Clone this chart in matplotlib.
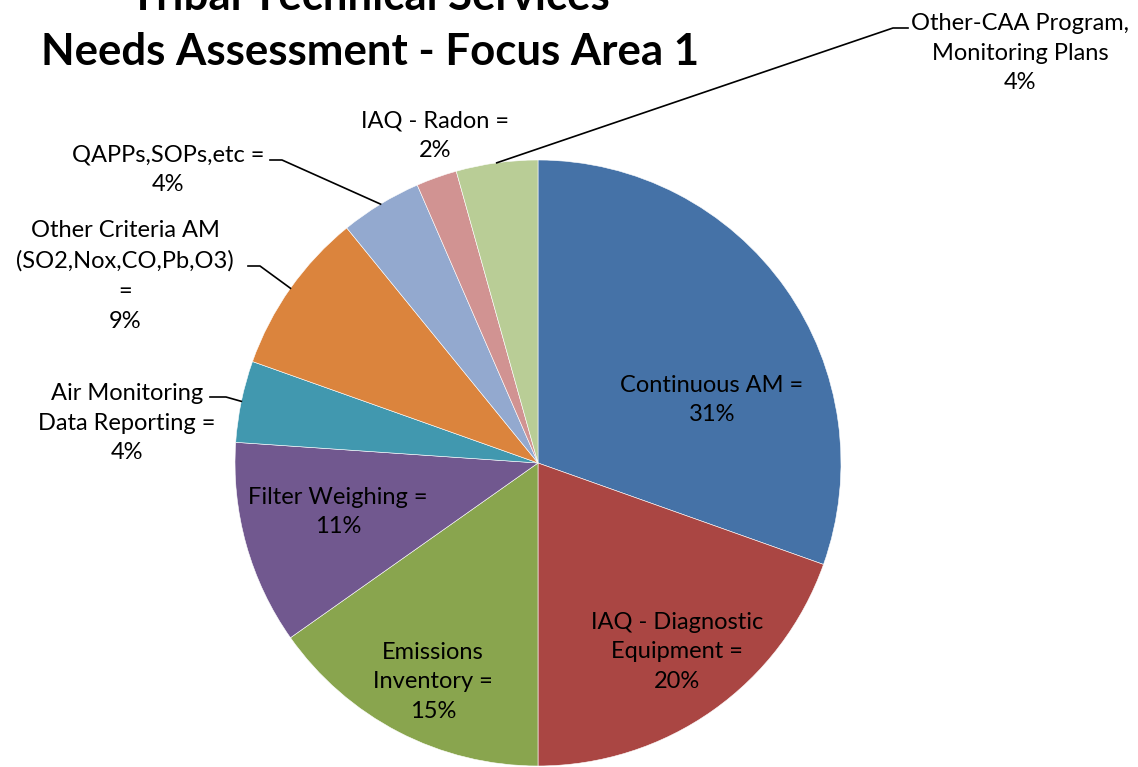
import matplotlib
matplotlib.use("Agg")
import matplotlib.pyplot as plt
from matplotlib.lines import Line2D
import numpy as np

plt.rcParams['font.family'] = ['Lato', 'DejaVu Sans']

# responses per topic (clockwise from 12 o'clock)
categories = ['Continuous AM', 'IAQ - Diagnostic Equipment', 'Emissions Inventory',
              'Filter Weighing', 'Air Monitoring Data Reporting', 'Other Criteria AM',
              'QAPPs,SOPs,etc', 'IAQ - Radon', 'Other-CAA Program, Monitoring Plans']
counts = [14, 9, 7, 5, 2, 4, 2, 1, 2]
pct_labels = ['31%', '20%', '15%', '11%', '4%', '9%', '4%', '2%', '4%']
label_text = ['Continuous AM =', 'IAQ - Diagnostic\nEquipment =', 'Emissions\nInventory =',
              'Filter Weighing =', 'Air Monitoring\nData Reporting =',
              'Other Criteria AM\n(SO2,Nox,CO,Pb,O3)\n=', 'QAPPs,SOPs,etc =',
              'IAQ - Radon =', 'Other-CAA Program,\nMonitoring Plans']
colors = ['#4572A7', '#AA4643', '#89A54E', '#71588F', '#4198AF',
          '#DB843D', '#93A9CF', '#D19392', '#B9CD96']

W, H = 1138, 767
fig = plt.figure(figsize=(W / 100, H / 100), dpi=100)

def px(x, y):
    return x / W, 1 - y / H

# pie centre (538, 463), radius 303 px
cx, cy, r = 538, 463, 303
ax = fig.add_axes([(cx - r) / W, (H - cy - r) / H, 2 * r / W, 2 * r / H])
wedges, _ = ax.pie(counts, colors=colors, startangle=90, counterclock=False,
                   radius=1.0, wedgeprops=dict(edgecolor='white', linewidth=0.4))
ax.set_xlim(-1, 1)
ax.set_ylim(-1, 1)
ax.set_aspect('equal')
ax.axis('off')

def wedge_point(i, rad=1.0):
    w = wedges[i]
    a = np.deg2rad((w.theta1 + w.theta2) / 2)
    disp = ax.transData.transform((rad * np.cos(a), rad * np.sin(a)))
    return fig.transFigure.inverted().transform(disp)

fs = 17
# text position (pixels) for each label, and leader start (pixels) or None
label_pos = [(712, 400), (677, 652), (433, 682), (338, 512), (127, 423),
             (125, 276), (168, 170), (435, 136), (1020, 53)]
leader_start = [None, None, None, None, (210, 397), (248, 266), (270, 160),
                None, (908, 28)]
leader_elbow = [None, None, None, None, (226, 397), (260, 266), (282, 160),
                None, (893, 28)]

for i in range(len(counts)):
    x, y = px(*label_pos[i])
    fig.text(x, y, label_text[i] + '\n' + pct_labels[i], ha='center', va='center',
             fontsize=fs, linespacing=1.52, color='black')
    if leader_start[i] is not None:
        p0 = px(*leader_start[i])
        p1 = px(*leader_elbow[i])
        p2 = wedge_point(i)
        fig.add_artist(Line2D([p0[0], p1[0], p2[0]], [p0[1], p1[1], p2[1]],
                              transform=fig.transFigure, color='black', linewidth=1.2))

# first title line is partly cut off at the top, as in the source image
tx, ty = px(370, -3)
fig.text(tx, ty, 'Tribal Technical Services', ha='center', va='center',
         fontsize=31.5, fontweight='bold')
tx, ty = px(370, 52)
fig.text(tx, ty, 'Needs Assessment - Focus Area 1', ha='center', va='center',
         fontsize=31.5, fontweight='bold')

fig.savefig('out.png', dpi=100, facecolor='white')
